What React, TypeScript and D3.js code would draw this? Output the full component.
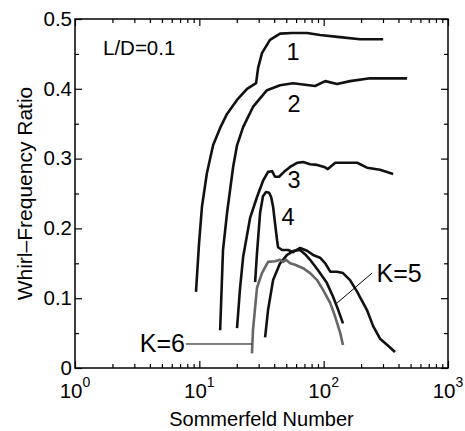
import React, { useEffect, useRef } from "react";
import * as d3 from "d3";

// curves: [Sommerfeld number, whirl-frequency ratio]
const curve1 = [
  [9.4, 0.109], [9.95, 0.179], [10.5, 0.231], [11.5, 0.279], [12.9, 0.319],
  [14.7, 0.344], [16.7, 0.364], [20.1, 0.384], [24.2, 0.4], [28.6, 0.408],
  [29.7, 0.43], [31.9, 0.451], [37.0, 0.47], [44.6, 0.479], [55.7, 0.48],
  [73.5, 0.48], [93.5, 0.477], [135, 0.474], [196, 0.471], [301, 0.471],
];
const curve2 = [
  [14.7, 0.054], [15.5, 0.169], [16.7, 0.222], [18.7, 0.288], [20.1, 0.319],
  [22.5, 0.345], [27.0, 0.374], [35.0, 0.398], [44.6, 0.405], [56.7, 0.408],
  [85.3, 0.404], [103, 0.411], [128, 0.407], [163, 0.411], [236, 0.415], [469, 0.415],
];
const curve3 = [
  [20.1, 0.057], [21.2, 0.112], [22.5, 0.159], [25.6, 0.215], [29.1, 0.245],
  [32.5, 0.268], [35.7, 0.281], [38.5, 0.282], [40.6, 0.274], [43.8, 0.274],
  [48.0, 0.281], [53.7, 0.288], [61.1, 0.294], [68.3, 0.295], [77.8, 0.292],
  [88.5, 0.291], [101, 0.288], [108, 0.285], [124, 0.294], [154, 0.294],
  [186, 0.294], [223, 0.287], [284, 0.284], [362, 0.278],
];
const curve4 = [
  [28.1, 0.123], [29.1, 0.165], [30.8, 0.222], [32.5, 0.246], [34.4, 0.252],
  [36.4, 0.251], [37.8, 0.245], [39.2, 0.231], [40.6, 0.208], [42.2, 0.183],
  [43.0, 0.173], [46.3, 0.169], [51.7, 0.169], [56.7, 0.166], [64.6, 0.172],
  [73.5, 0.168], [82.2, 0.162], [93.5, 0.158], [103, 0.15], [113, 0.138],
  [128, 0.138], [143, 0.136], [163, 0.126], [186, 0.109], [223, 0.083],
  [250, 0.06], [284, 0.042], [330, 0.032], [375, 0.023],
];
const curveK5 = [
  [33.8, 0.044], [35.7, 0.083], [39.2, 0.126], [44.6, 0.15], [50.8, 0.162],
  [57.8, 0.168], [64.6, 0.169], [70.8, 0.163], [77.8, 0.155], [90.1, 0.14],
  [106, 0.122], [119, 0.102], [131, 0.083], [143, 0.064],
];
const curveK6 = [
  [26.5, 0.021], [27.0, 0.054], [28.1, 0.087], [29.1, 0.115], [31.9, 0.136],
  [35.7, 0.152], [40.6, 0.153], [44.6, 0.155], [47.1, 0.152], [49.8, 0.155],
  [53.7, 0.15], [58.9, 0.148], [68.3, 0.143], [77.8, 0.136], [88.5, 0.126],
  [98.9, 0.112], [113, 0.093], [124, 0.073], [136, 0.05], [143, 0.033],
];

const yTicks = [0, 0.1, 0.2, 0.3, 0.4, 0.5];
const yTickLabels = ["0", "0.1", "0.2", "0.3", "0.4", "0.5"];
const yMinor = [0.05, 0.15, 0.25, 0.35, 0.45];
const xDecades = [0, 1, 2, 3];

// curve numbers, placed in data coordinates
const curveLabels = [
  { text: "1", x: 56.7, y: 0.441 },
  { text: "2", x: 57.8, y: 0.367 },
  { text: "3", x: 57.8, y: 0.258 },
  { text: "4", x: 51.7, y: 0.205 },
];

const W = 465;
const H = 431;
const margin = { top: 19, right: 17, bottom: 63, left: 75 };
const font = "'Liberation Sans', Arial, sans-serif";

export default function App() {
  const ref = useRef<SVGSVGElement>(null);

  useEffect(() => {
    drawChart();
  }, []);

  function drawChart() {
    const root = d3.select(ref.current);
    root.selectAll("*").remove();

    const width = W - margin.left - margin.right;
    const height = H - margin.top - margin.bottom;

    const svg = root
      .append("g")
      .attr("transform", `translate(${margin.left},${margin.top})`);

    const x = d3.scaleLog().domain([1, 1000]).range([0, width]);
    const y = d3.scaleLinear().domain([0, 0.5]).range([height, 0]);

    const xMajor = xDecades.map((d) => Math.pow(10, d));
    const xMinor: number[] = [];
    xDecades.slice(0, 3).forEach((d) => {
      for (let k = 2; k <= 9; k++) xMinor.push(k * Math.pow(10, d));
    });

    const tickAxis = (g: any) => {
      g.select(".domain").remove();
      g.selectAll("line").attr("stroke", "#000").attr("stroke-width", 1.2);
    };

    // inward ticks on all four sides
    svg.append("g").attr("transform", `translate(0,${height})`)
      .call(d3.axisBottom(x).tickValues(xMajor).tickSize(-7).tickFormat(() => "")).call(tickAxis);
    svg.append("g").attr("transform", `translate(0,${height})`)
      .call(d3.axisBottom(x).tickValues(xMinor).tickSize(-4).tickFormat(() => "")).call(tickAxis);
    svg.append("g")
      .call(d3.axisTop(x).tickValues(xMajor).tickSize(-7).tickFormat(() => "")).call(tickAxis);
    svg.append("g")
      .call(d3.axisTop(x).tickValues(xMinor).tickSize(-4).tickFormat(() => "")).call(tickAxis);
    svg.append("g")
      .call(d3.axisLeft(y).tickValues(yTicks).tickSize(-7).tickFormat(() => "")).call(tickAxis);
    svg.append("g")
      .call(d3.axisLeft(y).tickValues(yMinor).tickSize(-4).tickFormat(() => "")).call(tickAxis);
    svg.append("g").attr("transform", `translate(${width},0)`)
      .call(d3.axisRight(y).tickValues(yTicks).tickSize(-7).tickFormat(() => "")).call(tickAxis);
    svg.append("g").attr("transform", `translate(${width},0)`)
      .call(d3.axisRight(y).tickValues(yMinor).tickSize(-4).tickFormat(() => "")).call(tickAxis);

    svg.append("rect")
      .attr("width", width)
      .attr("height", height)
      .attr("fill", "none")
      .attr("stroke", "#000")
      .attr("stroke-width", 1.5);

    // y tick labels
    svg.selectAll(".ylab")
      .data(yTicks)
      .enter()
      .append("text")
      .attr("x", -3)
      .attr("y", (d) => y(d))
      .attr("dy", "0.33em")
      .attr("text-anchor", "end")
      .attr("font-family", font)
      .attr("font-size", 20.5)
      .text((d, i) => yTickLabels[i]);

    // x tick labels 10^n
    const xl = svg.selectAll(".xlab")
      .data(xDecades)
      .enter()
      .append("text")
      .attr("x", (d) => x(Math.pow(10, d)))
      .attr("y", height + 30)
      .attr("text-anchor", "middle")
      .attr("font-family", font)
      .attr("font-size", 20.5);
    xl.append("tspan").text("10");
    xl.append("tspan").attr("dy", -11).attr("font-size", 14).text((d) => String(d));

    // curves
    const line = d3.line<number[]>()
      .x((d) => x(d[0]))
      .y((d) => y(d[1]));

    const curves = [
      { data: curve1, color: "#111" },
      { data: curve2, color: "#111" },
      { data: curve3, color: "#111" },
      { data: curve4, color: "#111" },
      { data: curveK5, color: "#111" },
      { data: curveK6, color: "#666" },
    ];
    curves.forEach((c) => {
      svg.append("path")
        .datum(c.data)
        .attr("fill", "none")
        .attr("stroke", c.color)
        .attr("stroke-width", 2.6)
        .attr("stroke-linejoin", "round")
        .attr("d", line);
    });

    // labels on the curves
    svg.selectAll(".clab")
      .data(curveLabels)
      .enter()
      .append("text")
      .attr("x", (d) => x(d.x))
      .attr("y", (d) => y(d.y))
      .attr("text-anchor", "middle")
      .attr("font-family", font)
      .attr("font-size", 23.5)
      .text((d) => d.text);

    // K=5 and K=6 with leaders
    svg.append("line")
      .attr("x1", x(245)).attr("y1", y(0.136))
      .attr("x2", x(128)).attr("y2", y(0.093))
      .attr("stroke", "#000").attr("stroke-width", 1);
    svg.append("text")
      .attr("x", x(266)).attr("y", y(0.123))
      .attr("font-family", font).attr("font-size", 25)
      .text("K=5");

    svg.append("line")
      .attr("x1", x(7.8)).attr("y1", y(0.0344))
      .attr("x2", x(26.5)).attr("y2", y(0.0344))
      .attr("stroke", "#000").attr("stroke-width", 1);
    svg.append("text")
      .attr("x", x(7.67)).attr("y", y(0.023))
      .attr("text-anchor", "end")
      .attr("font-family", font).attr("font-size", 25)
      .text("K=6");

    svg.append("text")
      .attr("x", x(1.68)).attr("y", y(0.448))
      .attr("font-family", font).attr("font-size", 20.5)
      .text("L/D=0.1");

    // axis titles
    svg.append("text")
      .attr("x", width / 2)
      .attr("y", height + 58)
      .attr("text-anchor", "middle")
      .attr("font-family", font)
      .attr("font-size", 20)
      .text("Sommerfeld Number");

    svg.append("text")
      .attr("transform", `translate(${-43},${height / 2}) rotate(-90)`)
      .attr("text-anchor", "middle")
      .attr("font-family", font)
      .attr("font-size", 21)
      .text("Whirl\u2013Frequency Ratio");
  }

  return (
    <svg
      ref={ref}
      width={W}
      height={H}
      style={{ position: "absolute", left: 0, top: 0, background: "#fff" }}
    />
  );
}
